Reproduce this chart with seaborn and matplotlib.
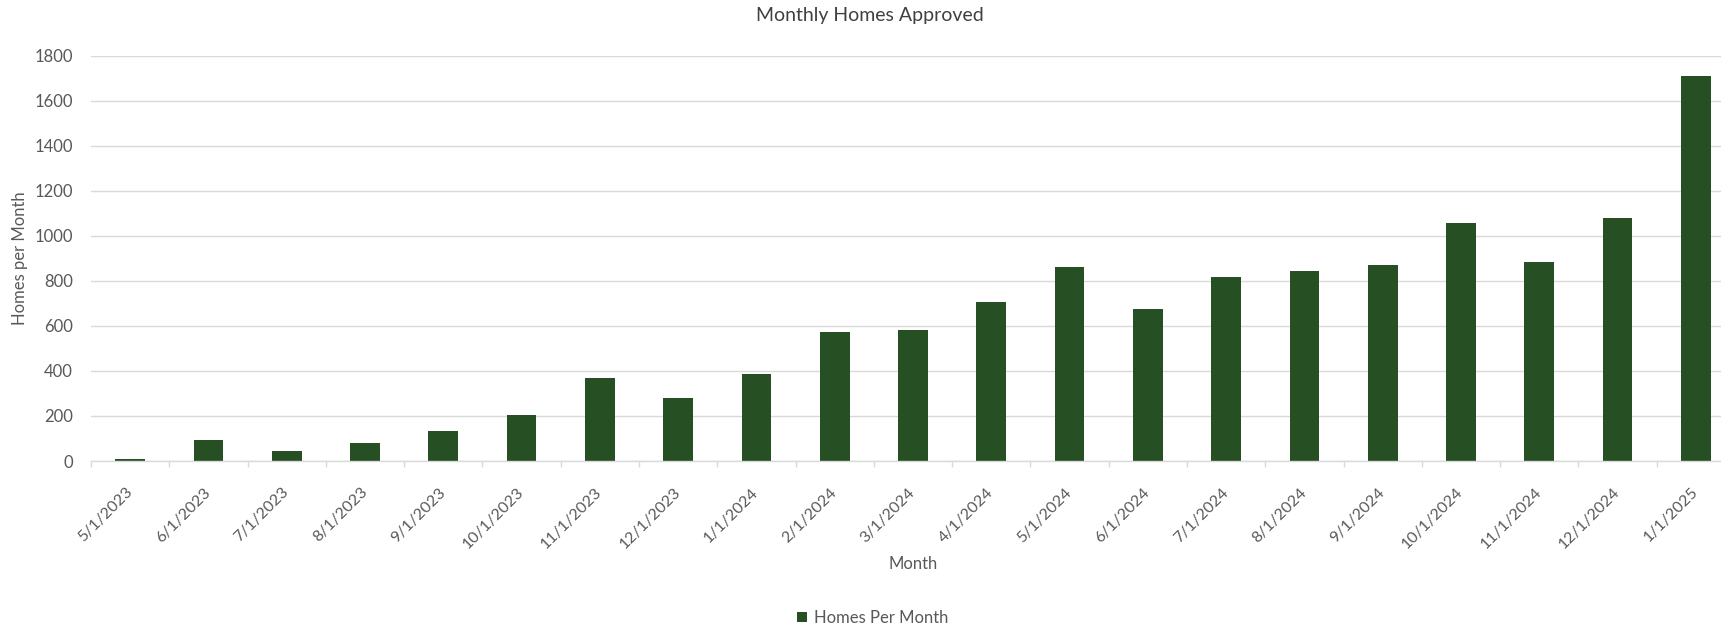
import matplotlib
matplotlib.use('Agg')
import matplotlib.pyplot as plt
import seaborn as sns
import pandas as pd

months = ['5/1/2023', '6/1/2023', '7/1/2023', '8/1/2023', '9/1/2023', '10/1/2023',
          '11/1/2023', '12/1/2023', '1/1/2024', '2/1/2024', '3/1/2024', '4/1/2024',
          '5/1/2024', '6/1/2024', '7/1/2024', '8/1/2024', '9/1/2024', '10/1/2024',
          '11/1/2024', '12/1/2024', '1/1/2025']
homes = [10, 92, 46, 80, 132, 203, 367, 281, 388, 574, 580, 706,
         863, 673, 815, 842, 869, 1057, 882, 1077, 1710]
yticks = [0, 200, 400, 600, 800, 1000, 1200, 1400, 1600, 1800]

bar_color = '#274f24'
text_color = '#595959'
grid_color = '#d9d9d9'

sns.set_theme(style='white')
plt.rcParams['font.family'] = ['Lato', 'DejaVu Sans']

df = pd.DataFrame({'Month': months, 'Homes': homes})

W, H = 1721, 627
fig = plt.figure(figsize=(W / 100, H / 100), dpi=100)
# axes spans px 91..1735 horizontally (chart is clipped on the right), 55.7..461 vertically
ax = fig.add_axes([91 / W, (H - 461) / H, 1644 / W, (461 - 55.7) / H])

sns.barplot(data=df, x='Month', y='Homes', color=bar_color, width=0.38,
            saturation=1, linewidth=0, edgecolor='none', label='Homes Per Month', ax=ax)

ax.set_ylim(0, 1800)
ax.set_xlim(-0.5, len(months) - 0.5)
ax.set_yticks(yticks)
ax.yaxis.grid(True, color=grid_color, linewidth=1.0)
ax.set_axisbelow(True)
for s in ['top', 'right', 'left']:
    ax.spines[s].set_visible(False)
ax.spines['bottom'].set_color(grid_color)
ax.spines['bottom'].set_linewidth(1.0)

ax.set_xlabel('')
ax.set_ylabel('')
ax.tick_params(axis='y', length=0, pad=13, labelsize=12, labelcolor=text_color)
ax.set_xticks(range(len(months)))
ax.set_xticklabels(months, rotation=45, ha='right', va='center', rotation_mode='anchor')
ax.tick_params(axis='x', which='major', length=0, pad=21, labelsize=11.5, labelcolor=text_color)
ax.set_xticks([i - 0.5 for i in range(len(months) + 1)], minor=True)
ax.tick_params(axis='x', which='minor', length=4.5, width=1.0, color=grid_color, bottom=True)

handles, labels = ax.get_legend_handles_labels()
if ax.get_legend() is not None:
    ax.get_legend().remove()
fig.legend(handles, labels, loc='center', bbox_to_anchor=(873 / W, 1 - 618 / H),
           frameon=False, fontsize=12, labelcolor=text_color,
           handlelength=0.6, handleheight=0.6, handletextpad=0.4)

fig.text(869.5 / W, 1 - 15 / H, 'Monthly Homes Approved', ha='center', va='center',
         fontsize=14, color='#404040')
fig.text(913 / W, 1 - 564 / H, 'Month', ha='center', va='center',
         fontsize=12, color=text_color)
fig.text(20 / W, 1 - 258 / H, 'Homes per Month', ha='center', va='center',
         rotation=90, fontsize=12, color=text_color)

fig.savefig('out.png', dpi=100)
